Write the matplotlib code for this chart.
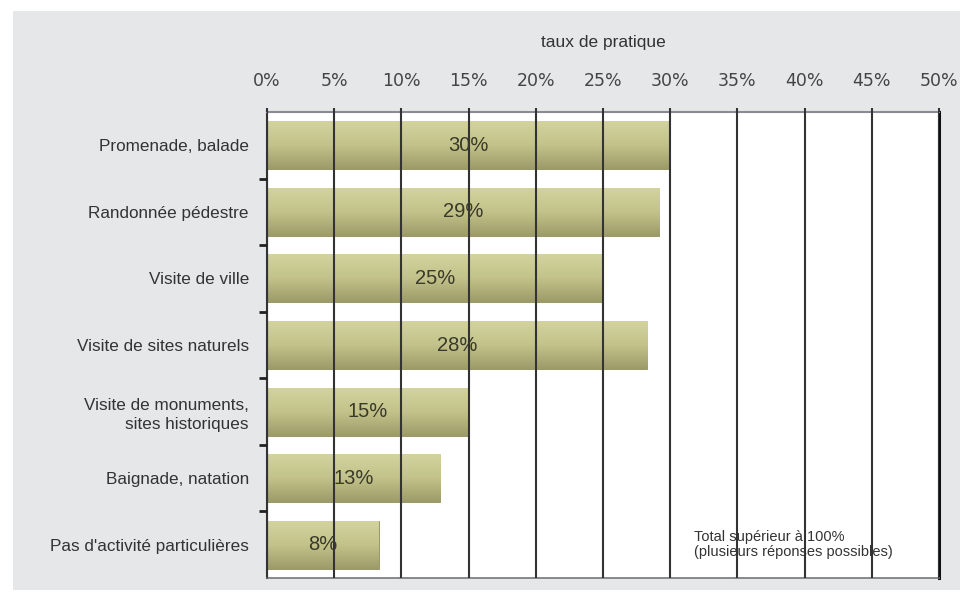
import matplotlib
matplotlib.use('Agg')
import matplotlib.pyplot as plt
import matplotlib.patches as patches
import numpy as np
from matplotlib.colors import LinearSegmentedColormap

# data (bar lengths in %, printed labels)
categories = ['Promenade, balade', 'Randonnée pédestre', 'Visite de ville',
              'Visite de sites naturels', 'Visite de monuments,\nsites historiques',
              'Baignade, natation', "Pas d'activité particulières"]
values = [30.0, 29.2, 25.0, 28.3, 15.0, 12.9, 8.3]
labels = ['30%', '29%', '25%', '28%', '15%', '13%', '8%']
xticks = [0, 5, 10, 15, 20, 25, 30, 35, 40, 45, 50]

plt.rcParams['font.family'] = ['Liberation Sans Narrow', 'Liberation Sans', 'DejaVu Sans']

fig = plt.figure(figsize=(9.72, 6.01), dpi=100, facecolor='white')
# grey panel behind the chart
fig.patches.append(patches.Rectangle((13 / 972, 11 / 601), 947 / 972, 579 / 601,
                                     transform=fig.transFigure, facecolor='#e6e7e9',
                                     edgecolor='none', zorder=-5))
ax = fig.add_axes([267 / 972, 23 / 601, 672 / 972, 466 / 601])
ax.set_facecolor('white')

n = len(categories)
ypos = np.arange(n)
height = 0.72
grad = LinearSegmentedColormap.from_list('olive', ['#d3d39f', '#c2c28a', '#9d9c69'])
g = np.linspace(0, 1, 64).reshape(-1, 1)
for y, v, lab in zip(ypos, values, labels):
    bar = ax.barh(y, v, height=height, color='#b7b67f', edgecolor='#8e8d5e',
                  linewidth=0.6, zorder=2)[0]
    im = ax.imshow(g, cmap=grad, aspect='auto', zorder=2.5,
                   extent=(0, v, y + height / 2, y - height / 2))
    im.set_clip_path(bar)
    ax.text(v / 2, y, lab, ha='center', va='center', fontsize=14.5,
            color='#3a3a2a', family=['Liberation Sans', 'DejaVu Sans'], zorder=4)

ax.set_xlim(0, 50)
ax.set_ylim(n - 0.5, -0.5)
ax.xaxis.tick_top()
ax.xaxis.set_label_position('top')
ax.set_xticks(xticks)
ax.set_xticklabels(['%d%%' % t for t in xticks], fontsize=12.5, color='#444444',
                   family=['DejaVu Sans'])
ax.tick_params(axis='x', length=3, width=1.5, color='#333333', pad=13)
ax.set_xlabel('taux de pratique', fontsize=12.5, color='#333333', labelpad=18)

ax.set_yticks(ypos)
ax.set_yticklabels(categories, fontsize=12.3, color='#333333', linespacing=1.35)
ax.set_yticks(np.arange(n - 1) + 0.5, minor=True)
ax.tick_params(axis='y', which='major', length=0, pad=13)
ax.tick_params(axis='y', which='minor', length=6, width=2, color='#222222')

ax.grid(axis='x', color='#333333', linewidth=1.5, zorder=3)
ax.set_axisbelow(False)
for t in ax.xaxis.get_gridlines():
    t.set_zorder(3)

ax.spines['top'].set_color('#8a8a96')
ax.spines['top'].set_linewidth(1.5)
ax.spines['bottom'].set_color('#777777')
ax.spines['bottom'].set_linewidth(1.2)
ax.spines['left'].set_color('#333333')
ax.spines['left'].set_linewidth(1.5)
ax.spines['right'].set_color('#111111')
ax.spines['right'].set_linewidth(2.2)

ax.text(31.8, 6.0, 'Total supérieur à 100%\n(plusieurs réponses possibles)',
        fontsize=10.5, color='#333333', va='center', ha='left', linespacing=1.1,
        zorder=5)

fig.savefig('out.png', dpi=100, facecolor='white')
